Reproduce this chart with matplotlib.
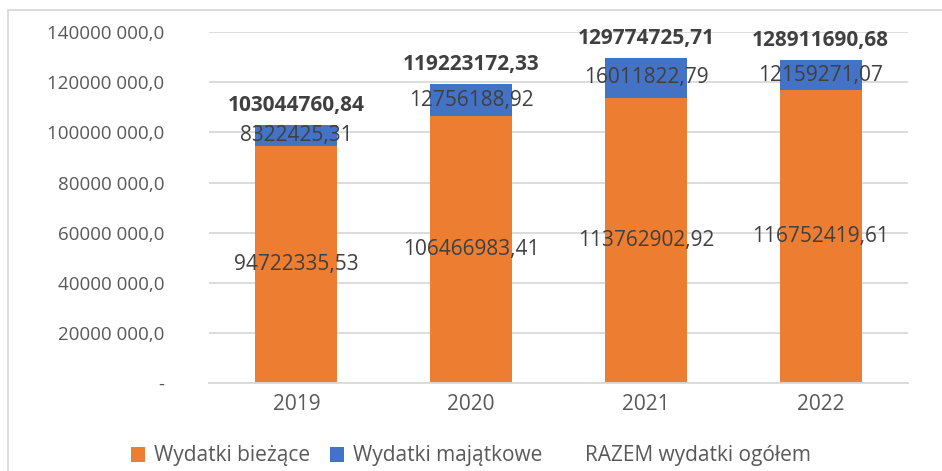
import matplotlib
matplotlib.use("Agg")
import matplotlib.pyplot as plt
from matplotlib.patches import Rectangle, Patch
import numpy as np

years = ['2019', '2020', '2021', '2022']
biezace = [94722335.53, 106466983.41, 113762902.92, 116752419.61]
majatkowe = [8322425.31, 12756188.92, 16011822.79, 12159271.07]
razem = [103044760.84, 119223172.33, 129774725.71, 128911690.68]
ytick_vals = [0, 20e6, 40e6, 60e6, 80e6, 100e6, 120e6, 140e6]
ytick_labels = ['-', '20000 000,0', '40000 000,0', '60000 000,0', '80000 000,0',
                '100000 000,0', '120000 000,0', '140000 000,0']

plt.rcParams['font.family'] = ['Open Sans', 'DejaVu Sans']
orange = '#ED7D31'
blue = '#4472C4'
txt = '#404040'
tick_c = '#595959'

def fmt(v):
    return f"{v:.2f}".replace('.', ',')

fig = plt.figure(figsize=(9.42, 4.71), dpi=100)
ax = fig.add_axes([0.2219, 0.1868, 0.742, 0.745])

x = np.arange(len(years))
w = 0.47
ax.bar(x, biezace, w, color=orange, zorder=2)
ax.bar(x, majatkowe, w, bottom=biezace, color=blue, zorder=2)

for i in range(len(years)):
    ax.text(x[i], biezace[i] / 2, fmt(biezace[i]), ha='center', va='center',
            fontsize=15, color=txt, zorder=3)
    ax.text(x[i], biezace[i] + majatkowe[i] / 2, fmt(majatkowe[i]), ha='center',
            va='center', fontsize=15, color=txt, zorder=3)
    ax.annotate(fmt(razem[i]), (x[i], razem[i]), xytext=(0, 14),
                textcoords='offset points', ha='center', va='center',
                fontsize=15, fontweight='bold', color=txt, zorder=3)

ax.set_xlim(-0.5, len(years) - 0.5)
ax.set_ylim(0, 140e6)
ax.set_yticks(ytick_vals)
ax.set_yticklabels(ytick_labels)
ax.set_xticks(x)
ax.set_xticklabels(years)
ax.tick_params(axis='both', length=0, colors=tick_c)
ax.tick_params(axis='y', pad=32, labelsize=13.5)
ax.tick_params(axis='x', pad=8, labelsize=15)
ax.yaxis.grid(True, color='#D9D9D9', linewidth=1.3, zorder=0)
ax.set_axisbelow(True)
for s in ['top', 'right', 'left']:
    ax.spines[s].set_visible(False)
ax.spines['bottom'].set_color('#D9D9D9')
ax.spines['bottom'].set_linewidth(1.3)

handles = [Patch(facecolor=orange), Patch(facecolor=blue),
           Patch(facecolor='none', edgecolor='none')]
fig.legend(handles, ['Wydatki bieżące', 'Wydatki majątkowe', 'RAZEM wydatki ogółem'],
           loc='center', bbox_to_anchor=(0.5, 0.032), ncol=3, frameon=False,
           fontsize=15, labelcolor=tick_c, handlelength=0.65, handleheight=0.75,
           handletextpad=0.45, columnspacing=0.95)

fig.patches.append(Rectangle((8 / 942, -0.1), 1.2, 1 - 10 / 471 + 0.1,
                             transform=fig.transFigure, fill=False,
                             edgecolor='#D9D9D9', linewidth=1.3))

fig.savefig("out.png", dpi=100)
